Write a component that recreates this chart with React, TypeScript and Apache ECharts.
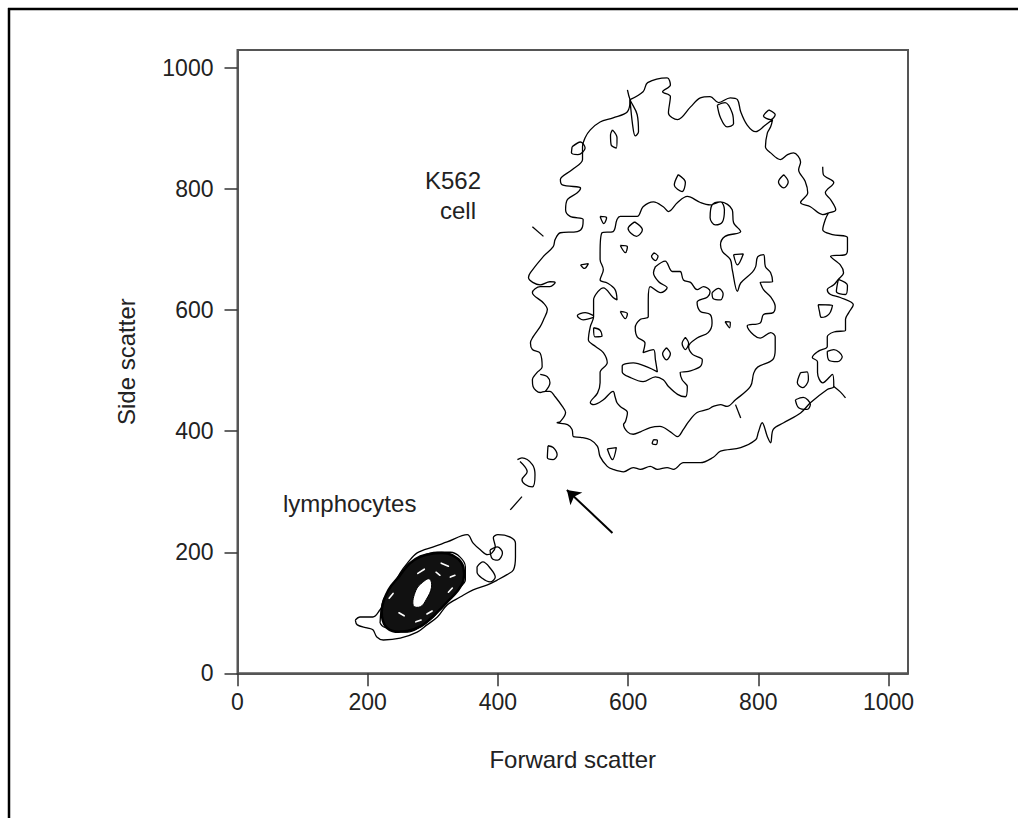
import React, { useEffect, useRef } from "react";
import * as echarts from "echarts";

type P = [number, number];

// ---- Axis ticks ----
const xTicks = [0, 200, 400, 600, 800, 1000];
const yTicks = [0, 200, 400, 600, 800, 1000];
const axisMax = 1030;

// ---- K562 contours (data units) ----
const k562Outer: P[] = [
  [603, 948], [623, 961], [630, 976], [660, 984], [665, 972], [653, 961], [665, 953], [662, 926],
  [676, 915], [696, 936], [711, 951], [726, 953], [739, 943], [757, 951], [768, 948], [773, 928],
  [783, 906], [796, 895], [811, 906], [822, 915], [819, 903], [814, 893], [811, 870], [819, 860],
  [834, 849], [845, 857], [854, 860], [865, 845], [862, 832], [872, 813], [876, 794], [865, 778],
  [880, 771], [899, 758], [908, 761], [903, 750], [899, 733], [914, 725], [937, 720], [937, 700],
  [934, 692], [911, 689], [926, 675], [931, 662], [923, 651], [916, 642], [906, 634], [911, 626],
  [926, 621], [946, 609], [939, 596], [934, 585], [934, 567], [916, 564], [906, 556], [906, 540],
  [892, 532], [883, 522], [891, 515], [891, 497], [899, 480], [914, 494], [916, 474],
  [906, 469], [880, 447], [865, 430], [839, 414], [823, 403], [819, 381], [814, 391], [806, 414],
  [800, 398], [796, 386], [773, 373], [742, 367], [731, 357], [711, 348], [685, 348], [670, 337],
  [660, 340], [645, 337], [634, 342], [619, 337], [608, 340], [593, 333], [577, 337], [568, 342],
  [557, 358], [553, 375], [542, 386], [527, 390], [516, 391], [514, 403], [507, 411], [491, 414],
  [496, 416], [504, 431], [499, 441], [488, 457], [480, 466], [473, 466], [465, 464], [454, 474],
  [453, 485], [460, 497], [468, 506], [465, 529], [453, 535], [450, 546], [454, 556], [465, 573],
  [470, 584], [476, 601], [470, 612], [453, 629], [465, 639], [480, 639], [488, 646], [480, 647],
  [465, 642], [447, 654], [450, 662], [470, 689], [485, 705], [488, 717], [496, 728], [522, 730],
  [530, 738], [531, 750], [511, 755], [504, 766], [507, 783], [522, 794], [527, 802], [499, 807],
  [496, 816], [514, 832], [530, 849], [530, 870], [534, 885], [542, 898], [557, 911], [577, 918],
  [599, 928], [603, 948]
];
const k562OuterTail: P[] = [[916, 474], [926, 465], [934, 455]];
const k562OuterBranch: P[] = [[899, 837], [900, 824], [916, 811], [903, 794], [911, 783], [919, 766], [908, 761]];
const k562TopSpike: P[] = [[599, 964], [603, 948], [614, 923], [616, 895], [611, 888], [607, 906], [603, 948]];
const k562LeftSpike: P[] = [[453, 738], [470, 722]];

const k562Middle: P[] = [
  [557, 695], [560, 728], [577, 730], [583, 750], [588, 755], [614, 755], [623, 771], [639, 779],
  [654, 771], [662, 763], [676, 778], [691, 788], [711, 778], [726, 774], [742, 779], [748, 766],
  [745, 746], [734, 741], [726, 753], [729, 774], [742, 779], [760, 766], [762, 745], [773, 730],
  [749, 722], [742, 708], [745, 697], [757, 684], [760, 667], [768, 631], [773, 645], [791, 663],
  [796, 672], [799, 688], [808, 692], [811, 672], [819, 662], [822, 647], [803, 646], [808, 634],
  [819, 622], [826, 606], [823, 596], [808, 593], [803, 579], [783, 574], [793, 559], [803, 554],
  [819, 563], [826, 556], [826, 535], [822, 518], [799, 506], [793, 496], [788, 474], [765, 452],
  [752, 441], [742, 444], [731, 441], [722, 436], [706, 431], [693, 416], [685, 403], [676, 391],
  [665, 399], [649, 408], [634, 406], [619, 399], [608, 395], [599, 399], [593, 411], [596, 416],
  [599, 431], [588, 441], [583, 447], [580, 457], [577, 466], [562, 452], [547, 444], [542, 447],
  [553, 463], [557, 480], [557, 497], [568, 513], [562, 530], [550, 540], [539, 551], [542, 573],
  [547, 589], [547, 617], [554, 631], [562, 637], [577, 621], [583, 617], [580, 634], [568, 645],
  [557, 650], [562, 667], [557, 684], [557, 695]
];
const k562MiddleSpike: P[] = [[765, 444], [773, 422]];
const k562MiddleLoopA: P[] = [[547, 591], [534, 596], [522, 591], [531, 584], [547, 588]];
const k562MiddleLoopB: P[] = [[547, 571], [557, 567], [560, 557], [549, 556], [547, 571]];

const k562Inner: P[] = [
  [642, 672], [639, 662], [647, 647], [660, 637], [650, 629], [634, 639], [631, 617], [631, 589],
  [619, 585], [611, 571], [614, 556], [626, 546], [623, 530], [639, 535], [642, 518], [645, 498],
  [630, 506], [608, 513], [591, 508], [591, 498], [603, 489], [623, 482], [642, 490], [654, 485],
  [662, 474], [676, 461], [688, 457], [691, 474], [683, 485], [680, 497], [693, 499], [711, 507],
  [714, 518], [699, 527], [693, 540], [706, 554], [723, 563], [729, 579], [726, 593], [711, 598],
  [706, 613], [722, 622], [726, 631], [716, 639], [706, 634], [696, 646], [685, 650], [680, 664],
  [668, 664], [657, 681], [642, 672]
];

// small isolated contour islands
const islands: P[][] = [
  [[677, 824], [688, 811], [683, 796], [671, 807], [677, 824]],
  [[610, 746], [622, 733], [613, 722], [600, 735], [610, 746]],
  [[557, 755], [567, 753], [563, 743], [557, 755]],
  [[588, 707], [599, 705], [596, 695], [588, 707]],
  [[640, 695], [646, 689], [642, 682], [636, 689], [640, 695]],
  [[527, 675], [539, 677], [533, 669], [527, 675]],
  [[588, 598], [599, 594], [596, 586], [588, 598]],
  [[659, 538], [665, 528], [659, 518], [653, 528], [659, 538]],
  [[688, 555], [693, 545], [688, 535], [683, 545], [688, 555]],
  [[639, 386], [645, 385], [643, 378], [637, 380], [639, 386]],
  [[568, 371], [582, 373], [576, 353], [568, 371]],
  [[477, 376], [485, 373], [491, 361], [485, 353], [476, 356], [477, 376]],
  [[816, 931], [826, 923], [819, 915], [808, 921], [816, 931]],
  [[737, 939], [749, 943], [760, 926], [762, 908], [752, 903], [742, 918], [737, 939]],
  [[839, 824], [846, 812], [839, 802], [831, 812], [839, 824]],
  [[762, 692], [777, 693], [768, 675], [762, 692]],
  [[729, 629], [739, 636], [746, 627], [742, 617], [731, 619], [729, 629]],
  [[749, 581], [757, 580], [756, 571], [749, 581]],
  [[865, 497], [875, 498], [877, 485], [868, 472], [860, 480], [865, 497]],
  [[857, 452], [869, 456], [880, 444], [875, 436], [862, 439], [857, 452]],
  [[906, 532], [916, 535], [929, 523], [922, 515], [908, 518], [906, 532]],
  [[892, 609], [914, 608], [909, 594], [897, 588], [894, 598], [892, 609]],
  [[923, 651], [937, 641], [934, 626], [920, 631], [923, 651]],
  [[430, 353], [437, 356], [453, 345], [457, 328], [453, 308], [442, 312], [437, 320], [445, 333], [434, 350]],
  [[419, 270], [437, 292]],
  [[514, 870], [527, 878], [534, 868], [523, 857], [513, 860], [514, 870]],
  [[576, 898], [583, 885], [582, 868], [574, 873], [573, 890], [576, 898]],
  [[465, 494], [476, 490], [480, 480], [473, 466]]
];

// ---- Lymphocyte contours ----
const lymphOuter: P[] = [
  [181, 88], [188, 93], [208, 93], [219, 105], [230, 121], [239, 143], [250, 166], [261, 182],
  [276, 199], [301, 209], [322, 217], [353, 229], [362, 215], [373, 204], [384, 196], [391, 199],
  [396, 209], [393, 224], [400, 229], [419, 225], [427, 215], [427, 192], [424, 171], [414, 163],
  [399, 154], [384, 146], [362, 138], [342, 126], [322, 113], [307, 93], [291, 80], [276, 68],
  [250, 58], [224, 55], [214, 60], [208, 72], [199, 75], [184, 80], [181, 88]
];
const lymphSecond: P[] = [
  [219, 83], [224, 121], [239, 143], [261, 174], [281, 192], [307, 200], [327, 200], [342, 192],
  [350, 176], [350, 154], [337, 138], [316, 113], [301, 93], [281, 77], [261, 68], [239, 72],
  [224, 77], [219, 83]
];
const lymphLoopA: P[] = [[368, 176], [377, 184], [388, 174], [396, 159], [388, 151], [376, 157], [368, 167], [368, 176]];
const lymphLoopB: P[] = [[388, 204], [399, 209], [407, 199], [400, 187], [391, 190], [388, 204]];
const lymphCore: P[] = [
  [222, 108], [232, 138], [249, 161], [264, 181], [281, 193], [301, 198], [323, 198], [339, 189],
  [347, 175], [347, 153], [338, 136], [323, 119], [309, 103], [297, 91], [282, 78], [261, 70],
  [238, 70], [225, 82]
];
const lymphHole: P[] = [[270, 112], [274, 137], [284, 150], [295, 156], [298, 142], [290, 122], [281, 110]];
const lymphGaps: P[][] = [
  [[277, 165], [287, 172]], [[313, 182], [324, 177]], [[305, 167], [311, 162]], [[327, 159], [334, 162]],
  [[233, 124], [239, 132]], [[248, 100], [256, 95]], [[274, 85], [282, 88]], [[291, 98], [299, 103]],
  [[324, 134], [330, 141]]
];

// ---- Arrow (data units) ----
const arrowFrom: P = [576, 232];
const arrowTo: P = [506, 303];

const FONT = "'Liberation Sans', Arial, Helvetica, sans-serif";

export default function App() {
  const ref = useRef<HTMLDivElement>(null);
  useEffect(() => {
    if (!ref.current) return;
    const chart = echarts.init(ref.current, null, { renderer: "svg" });

    const lineSeries = (data: P[], width = 1.3) => ({
      type: "line",
      data,
      showSymbol: false,
      symbol: "none",
      smooth: 0.35,
      silent: true,
      animation: false,
      lineStyle: { color: "#000", width },
      z: 3,
    });

    const contourLines: P[][] = [
      k562Outer, k562OuterTail, k562OuterBranch, k562TopSpike, k562LeftSpike,
      k562Middle, k562MiddleSpike, k562MiddleLoopA, k562MiddleLoopB, k562Inner,
      ...islands, lymphOuter, lymphSecond, lymphLoopA, lymphLoopB,
    ];

    const series: any[] = contourLines.map((d) => lineSeries(d));

    series.push({
      type: "custom",
      data: [[0, 0]],
      silent: true,
      clip: false,
      z: 4,
      renderItem: (_params: any, api: any) => {
        const core = lymphCore.map((p) => api.coord(p));
        const hole = lymphHole.map((p) => api.coord(p));
        const gaps = lymphGaps.map((g) => {
          const a = api.coord(g[0]);
          const b = api.coord(g[1]);
          return {
            type: "line",
            shape: { x1: a[0], y1: a[1], x2: b[0], y2: b[1] },
            style: { stroke: "#fff", lineWidth: 1.6, lineCap: "round" },
          };
        });
        return {
          type: "group",
          children: [
            { type: "polygon", shape: { points: core, smooth: 0.4 }, style: { fill: "#111", stroke: "#000", lineWidth: 2.5 } },
            { type: "polygon", shape: { points: hole, smooth: 0.4 }, style: { fill: "#fff", stroke: "#000", lineWidth: 1 } },
            ...gaps,
          ],
        };
      },
    });

    series.push({
      type: "lines",
      coordinateSystem: "cartesian2d",
      silent: true,
      z: 5,
      symbol: ["none", "arrow"],
      symbolSize: [0, 13],
      lineStyle: { color: "#000", width: 2, opacity: 1 },
      data: [{ coords: [arrowFrom, arrowTo] }],
    });

    const option: any = {
      animation: false,
      backgroundColor: "#fff",
      grid: {
        left: 237.5,
        top: 50,
        right: 110,
        bottom: 144.7,
        show: true,
        borderColor: "#555",
        borderWidth: 2,
        containLabel: false,
      },
      xAxis: {
        type: "value",
        min: 0,
        max: axisMax,
        interval: 200,
        splitLine: { show: false },
        axisLine: { show: true, lineStyle: { color: "#555", width: 2 } },
        axisTick: { show: true, inside: false, length: 13, lineStyle: { color: "#333", width: 1.5 } },
        axisLabel: {
          color: "#222",
          fontSize: 23,
          fontFamily: FONT,
          margin: 17,
          showMaxLabel: false,
          formatter: (v: number) => (xTicks.includes(v) ? String(v) : ""),
        },
        name: "Forward scatter",
        nameLocation: "middle",
        nameGap: 74,
        nameTextStyle: { color: "#222", fontSize: 24, fontFamily: FONT },
      },
      yAxis: {
        type: "value",
        min: 0,
        max: axisMax,
        interval: 200,
        splitLine: { show: false },
        axisLine: { show: true, lineStyle: { color: "#555", width: 2 } },
        axisTick: { show: true, inside: false, length: 13, lineStyle: { color: "#333", width: 1.5 } },
        axisLabel: {
          color: "#222",
          fontSize: 23,
          fontFamily: FONT,
          margin: 24,
          showMaxLabel: false,
          formatter: (v: number) => (yTicks.includes(v) ? String(v) : ""),
        },
        name: "Side scatter",
        nameLocation: "middle",
        nameGap: 99,
        nameRotate: 90,
        nameTextStyle: { color: "#222", fontSize: 24, fontFamily: FONT },
      },
      graphic: [
        { type: "line", shape: { x1: 8, y1: 9, x2: 1018, y2: 9 }, style: { stroke: "#000", lineWidth: 2.5 } },
        { type: "line", shape: { x1: 9, y1: 8, x2: 9, y2: 818 }, style: { stroke: "#000", lineWidth: 2.5 } },
        { type: "text", left: 425, top: 168, style: { text: "K562", fill: "#222", font: `24px ${FONT}` } },
        { type: "text", left: 440, top: 198, style: { text: "cell", fill: "#222", font: `24px ${FONT}` } },
        { type: "text", left: 283, top: 491, style: { text: "lymphocytes", fill: "#222", font: `24px ${FONT}` } },
      ],
      series,
    };

    chart.setOption(option);
    return () => chart.dispose();
  }, []);

  return (
    <div
      ref={ref}
      style={{ position: "fixed", left: 0, top: 0, width: 1018, height: 818, background: "#fff" }}
    />
  );
}
